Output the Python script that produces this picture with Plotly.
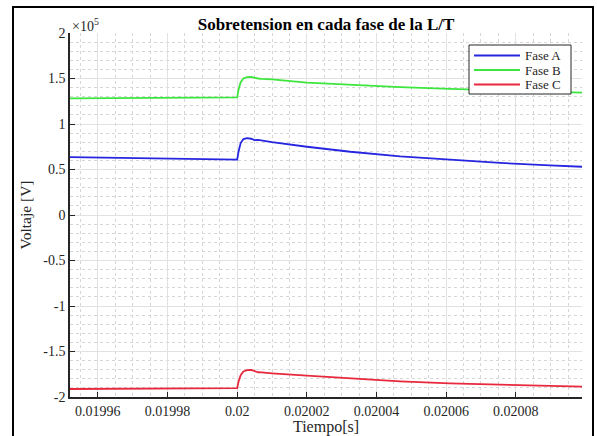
import plotly.graph_objects as go

# Time samples [s]
tiempo = [0.019952, 0.01998, 0.02, 0.0200004, 0.020001, 0.0200018, 0.0200028,
          0.020004, 0.020005, 0.020006, 0.020007, 0.02001, 0.02002,
          0.0200325, 0.0200468, 0.0200611, 0.0200755, 0.0200898, 0.020099]

# Phase voltages [V]
fase_a = [0.637e5, 0.622e5, 0.608e5, 0.70e5, 0.79e5, 0.835e5, 0.845e5,
          0.838e5, 0.822e5, 0.826e5, 0.818e5, 0.80e5, 0.75e5,
          0.695e5, 0.645e5, 0.605e5, 0.572e5, 0.545e5, 0.53e5]
fase_b = [1.282e5, 1.287e5, 1.293e5, 1.38e5, 1.46e5, 1.50e5, 1.515e5,
          1.517e5, 1.505e5, 1.50e5, 1.495e5, 1.49e5, 1.455e5,
          1.43e5, 1.405e5, 1.385e5, 1.368e5, 1.352e5, 1.344e5]
fase_c = [-1.912e5, -1.907e5, -1.902e5, -1.83e5, -1.76e5, -1.72e5, -1.705e5,
          -1.703e5, -1.716e5, -1.728e5, -1.73e5, -1.74e5, -1.765e5,
          -1.797e5, -1.828e5, -1.851e5, -1.867e5, -1.879e5, -1.885e5]

nombres = ["Fase A", "Fase B", "Fase C"]
colores = ["#2626e0", "#3de63d", "#e8283c"]
valores = [fase_a, fase_b, fase_c]

x_ticks = [0.01996, 0.01998, 0.02, 0.02002, 0.02004, 0.02006, 0.02008]
x_labels = ["0.01996", "0.01998", "0.02", "0.02002", "0.02004", "0.02006", "0.02008"]
y_ticks = [-2e5, -1.5e5, -1e5, -0.5e5, 0, 0.5e5, 1e5, 1.5e5, 2e5]
y_labels = ["-2", "-1.5", "-1", "-0.5", "0", "0.5", "1", "1.5", "2"]

SERIF = "Liberation Serif, serif"
AX = "#262626"
W, H = 597, 436
L, R, T, B = 70, 15, 33, 39
PW, PH = W - L - R, H - T - B


def px_x(px):
    return (px - L) / PW


def px_y(py):
    return (H - B - py) / PH


fig = go.Figure()
for name, vals, color in zip(nombres, valores, colores):
    fig.add_trace(go.Scatter(x=tiempo, y=vals, mode="lines", name=name,
                             line=dict(color=color, width=1.8),
                             showlegend=False))

fig.update_layout(
    width=W, height=H,
    margin=dict(l=L, r=R, t=T, b=B, autoexpand=False),
    paper_bgcolor="white", plot_bgcolor="white",
    font=dict(family=SERIF, size=14, color=AX),
    title=dict(text="<b>Sobretension en cada fase de la L/T</b>",
               x=326 / W, xanchor="center", y=1 - 24 / H, yanchor="middle",
               font=dict(family=SERIF, size=17, color="black")),
    showlegend=False,
)

fig.update_xaxes(
    range=[0.019952, 0.020099], tickvals=x_ticks, ticktext=x_labels,
    tickfont=dict(family=SERIF, size=14, color=AX), automargin=False,
    ticks="inside", ticklen=5, tickcolor=AX, tickwidth=1,
    showline=True, linecolor=AX, linewidth=1.5, mirror=False,
    showgrid=True, gridcolor="#e2e2e2", gridwidth=1,
    minor=dict(dtick=0.000005, showgrid=True, gridcolor="#d6d6d6",
               griddash="dot", gridwidth=1, tick0=0.02),
    zeroline=False,
    title=dict(text="Tiempo[s]", font=dict(family=SERIF, size=16, color=AX), standoff=3),
)
fig.update_yaxes(
    range=[-2e5, 2e5], tickvals=y_ticks, ticktext=y_labels,
    tickfont=dict(family=SERIF, size=14, color=AX), automargin=False,
    ticks="inside", ticklen=5, tickcolor=AX, tickwidth=1,
    showline=True, linecolor=AX, linewidth=1.5, mirror=False,
    showgrid=True, gridcolor="#e2e2e2", gridwidth=1,
    minor=dict(dtick=0.1e5, showgrid=True, gridcolor="#d6d6d6",
               griddash="dot", gridwidth=1, tick0=0),
    zeroline=False,
    title=dict(text="Voltaje [V]", font=dict(family=SERIF, size=15.5, color=AX), standoff=8),
)

# Scale multiplier above the y axis
fig.add_annotation(xref="paper", yref="paper", x=0, y=1.0, xanchor="left",
                   yanchor="bottom", showarrow=False, xshift=0, yshift=-3,
                   text="×10<sup>5</sup>", font=dict(family=SERIF, size=14, color=AX))

# Legend box drawn as shapes and text
fig.add_shape(type="rect", xref="paper", yref="paper",
              x0=px_x(469), x1=px_x(571), y0=px_y(94), y1=px_y(45),
              fillcolor="white", line=dict(color=AX, width=1), layer="above")
for i, (name, color) in enumerate(zip(nombres, colores)):
    yy = 55.5 + i * 14.5
    fig.add_shape(type="line", xref="paper", yref="paper",
                  x0=px_x(474), x1=px_x(520), y0=px_y(yy), y1=px_y(yy),
                  line=dict(color=color, width=1.8), layer="above")
    fig.add_annotation(xref="paper", yref="paper", x=px_x(523), y=px_y(yy),
                       xanchor="left", yanchor="middle", showarrow=False,
                       text=name, font=dict(family=SERIF, size=13, color=AX))

# Outer frame around the whole figure
fig.add_shape(type="rect", xref="paper", yref="paper",
              x0=px_x(13), x1=px_x(593), y0=px_y(445), y1=px_y(7),
              line=dict(color="black", width=2), layer="above")

fig.write_html("out.html")
